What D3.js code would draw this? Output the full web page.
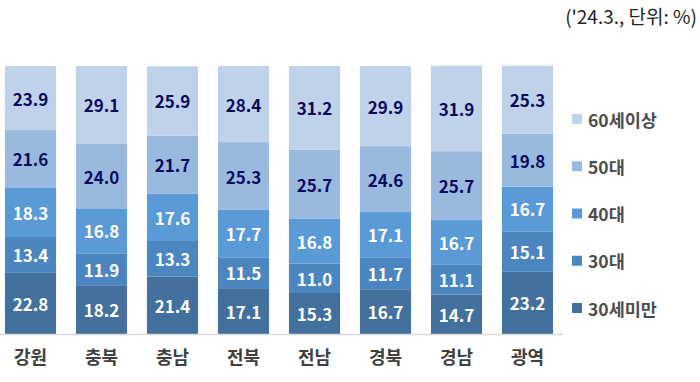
<!DOCTYPE html>
<html><head><meta charset="utf-8">
<script src="https://cdn.jsdelivr.net/npm/d3@7"></script>
<style>body{margin:0;background:#fff}svg{display:block}</style>
</head><body><svg id="c" width="700" height="382"></svg>
<script>
const categories = ["강원","충북","충남","전북","전남","경북","경남","광역"];
const seriesNames = ["30세미만","30대","40대","50대","60세이상"];
const under30 = [22.8,18.2,21.4,17.1,15.3,16.7,14.7,23.2];
const age30s  = [13.4,11.9,13.3,11.5,11.0,11.7,11.1,15.1];
const age40s  = [18.3,16.8,17.6,17.7,16.8,17.1,16.7,16.7];
const age50s  = [21.6,24.0,21.7,25.3,25.7,24.6,25.7,19.8];
const over60  = [23.9,29.1,25.9,28.4,31.2,29.9,31.9,25.3];
const colors = ["#43709d","#4b86c0","#5a9ad6","#9ab9df","#c0d1ea"];
const labelColors = ["#ffffff","#ffffff","#ffffff","#0b0b5e","#0b0b5e"];
const unitText = "('24.3., 단위: %)";

const seriesVals = [under30, age30s, age40s, age50s, over60];
const rows = categories.map((c,i)=>{const r={cat:c};seriesNames.forEach((s,j)=>r[s]=seriesVals[j][i]);return r;});
const stack = d3.stack().keys(seriesNames)(rows);

const svg = d3.select("#c");
const x = d3.scaleBand().domain(categories).range([-5,563]).paddingInner(0.28).paddingOuter(0.14);
const y = d3.scaleLinear().domain([0,100]).range([334,66]);
const font = "'Noto Sans CJK KR','Noto Sans',sans-serif";

stack.forEach((layer,j)=>{
  const g = svg.append("g");
  g.selectAll("rect").data(layer).join("rect")
    .attr("x",d=>x(d.data.cat)).attr("width",x.bandwidth())
    .attr("y",d=>y(d[1])).attr("height",d=>y(d[0])-y(d[1]))
    .attr("fill",colors[j]);
  g.selectAll("text").data(layer).join("text")
    .attr("x",d=>x(d.data.cat)+x.bandwidth()/2)
    .attr("y",d=>(y(d[0])+y(d[1]))/2)
    .attr("text-anchor","middle").attr("dominant-baseline","central")
    .attr("font-family",font).attr("font-weight","bold").attr("font-size",17)
    .attr("fill",labelColors[j])
    .text(d=>d3.format(".1f")(d[1]-d[0]));
});

const xAxis = d3.axisBottom(x).tickSize(0).tickPadding(17);
const ax = svg.append("g").attr("transform","translate(0,334)").call(xAxis);
ax.select(".domain").attr("stroke","#d9d9d9").attr("stroke-width",1.5).attr("d","M0,0.5H563");
ax.selectAll("text").attr("font-family",font).attr("font-weight","bold").attr("font-size",18).attr("fill","#404040");

const legY = d3.scalePoint().domain(seriesNames.slice().reverse()).range([119,308]);
const leg = svg.append("g").selectAll("g").data(seriesNames).join("g")
  .attr("transform",d=>`translate(572,${legY(d)})`);
leg.append("rect").attr("x",0).attr("y",-5).attr("width",10).attr("height",10)
  .attr("fill",(d,i)=>colors[i]);
leg.append("text").attr("x",16).attr("y",0).attr("dominant-baseline","central")
  .attr("font-family",font).attr("font-weight","bold").attr("font-size",17.5).attr("fill","#4d4d4d")
  .text(d=>d);

svg.append("text").attr("x",697).attr("y",15).attr("text-anchor","end")
  .attr("font-family",font).attr("font-size",19).attr("fill","#222").attr("dominant-baseline","central")
  .text(unitText);
</script></body></html>
